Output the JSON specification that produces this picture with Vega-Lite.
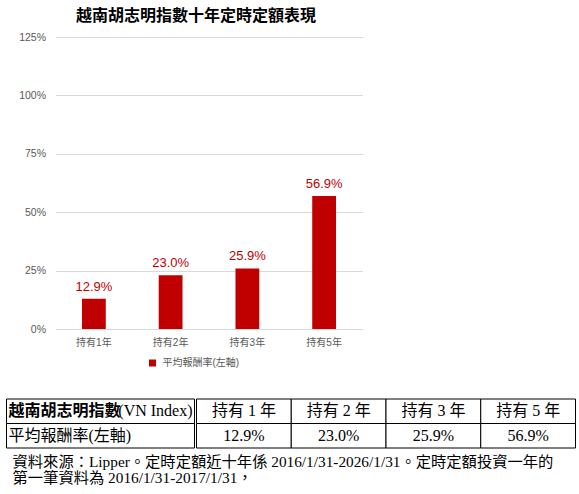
{
  "$schema": "https://vega.github.io/schema/vega-lite/v6.json",
  "background": "white",
  "padding": {"left": 5.5, "top": 8, "right": 5, "bottom": 5},
  "spacing": 51,
  "config": {
    "view": {"stroke": null},
    "font": "Liberation Sans, Noto Sans CJK TC",
    "concat": {"spacing": 0}
  },
  "title": {
    "text": [
      "資料來源：Lipper。定時定額近十年係 2016/1/31-2026/1/31。定時定額投資一年的",
      "第一筆資料為 2016/1/31-2017/1/31，"
    ],
    "orient": "bottom",
    "anchor": "start",
    "frame": "group",
    "font": "Liberation Serif, Noto Sans CJK TC",
    "fontSize": 15.3,
    "fontWeight": "normal",
    "color": "#000000",
    "lineHeight": 16.5,
    "offset": 6,
    "dx": -43
  },
  "datasets": {
    "bars": [
      {"period": "持有1年", "rate": 0.129, "series": "平均報酬率(左軸)"},
      {"period": "持有2年", "rate": 0.230, "series": "平均報酬率(左軸)"},
      {"period": "持有3年", "rate": 0.259, "series": "平均報酬率(左軸)"},
      {"period": "持有5年", "rate": 0.569, "series": "平均報酬率(左軸)"}
    ],
    "tableLeft": [
      {"c": "name", "row": "h", "label": "越南胡志明指數", "note": "(VN Index)"},
      {"c": "name", "row": "b", "label": "平均報酬率(左軸)", "note": ""}
    ],
    "tableRight": [
      {"c": "持有 1 年", "row": "h", "label": "持有 1 年"},
      {"c": "持有 2 年", "row": "h", "label": "持有 2 年"},
      {"c": "持有 3 年", "row": "h", "label": "持有 3 年"},
      {"c": "持有 5 年", "row": "h", "label": "持有 5 年"},
      {"c": "持有 1 年", "row": "b", "label": "12.9%"},
      {"c": "持有 2 年", "row": "b", "label": "23.0%"},
      {"c": "持有 3 年", "row": "b", "label": "25.9%"},
      {"c": "持有 5 年", "row": "b", "label": "56.9%"}
    ]
  },
  "vconcat": [
    {
      "width": 307,
      "height": 292,
      "title": {
        "text": "越南胡志明指數十年定時定額表現",
        "font": "Liberation Serif, Noto Sans CJK TC",
        "fontSize": 16,
        "fontWeight": "bold",
        "color": "#000000",
        "anchor": "middle",
        "frame": "group",
        "dx": -13,
        "offset": 8
      },
      "data": {"name": "bars"},
      "encoding": {
        "x": {
          "field": "period",
          "type": "nominal",
          "sort": null,
          "scale": {"paddingInner": 0.69, "paddingOuter": 0.345},
          "axis": {
            "title": null,
            "labelAngle": 0,
            "ticks": false,
            "domainColor": "#d9d9d9",
            "labelColor": "#595959",
            "labelFontSize": 10,
            "labelPadding": 8
          }
        },
        "y": {
          "field": "rate",
          "type": "quantitative",
          "scale": {"domain": [0, 1.25]},
          "axis": {
            "title": null,
            "format": ".0%",
            "values": [0, 0.25, 0.5, 0.75, 1, 1.25],
            "domain": false,
            "ticks": false,
            "gridColor": "#d9d9d9",
            "labelColor": "#595959",
            "labelFontSize": 10.5,
            "labelPadding": 10
          }
        }
      },
      "layer": [
        {
          "mark": {"type": "bar", "color": "#c00000"},
          "encoding": {
            "color": {
              "field": "series",
              "type": "nominal",
              "scale": {"range": ["#c00000"]},
              "legend": {
                "title": null,
                "orient": "none",
                "legendX": 92,
                "legendY": 321,
                "padding": 0,
                "symbolType": "square",
                "symbolSize": 49,
                "labelFontSize": 10,
                "labelColor": "#595959",
                "labelOffset": 5
              }
            }
          }
        },
        {
          "mark": {"type": "text", "baseline": "bottom", "dy": -5, "color": "#c00000", "fontSize": 13},
          "encoding": {"text": {"field": "rate", "type": "quantitative", "format": ".1%"}}
        }
      ]
    },
    {
      "hconcat": [
        {
          "width": 139,
          "height": 49,
          "data": {"name": "tableLeft"},
          "encoding": {
            "y": {"field": "row", "type": "nominal", "axis": null, "scale": {"domain": ["h", "b"]}}
          },
          "layer": [
            {
              "mark": {"type": "rect", "fill": "white", "stroke": "black", "strokeWidth": 1},
              "encoding": {"x": {"field": "c", "type": "nominal", "axis": null, "scale": {"range": [-49, 139]}}}
            },
            {
              "transform": [{"filter": "datum.row == 'h'"}],
              "mark": {"type": "text", "align": "left", "dx": 2, "font": "Liberation Serif, Noto Sans CJK TC", "fontSize": 16, "fontWeight": "bold", "color": "black"},
              "encoding": {
                "x": {"field": "c", "type": "nominal", "axis": null, "bandPosition": 0},
                "text": {"field": "label"}
              }
            },
            {
              "transform": [{"filter": "datum.row == 'b'"}],
              "mark": {"type": "text", "align": "left", "dx": 2, "font": "Liberation Serif, Noto Sans CJK TC", "fontSize": 16, "color": "black"},
              "encoding": {
                "x": {"field": "c", "type": "nominal", "axis": null, "bandPosition": 0},
                "text": {"field": "label"}
              }
            },
            {
              "mark": {"type": "text", "align": "right", "dx": -2, "font": "Liberation Serif, Noto Sans CJK TC", "fontSize": 16, "color": "black"},
              "encoding": {
                "x": {"field": "c", "type": "nominal", "axis": null, "bandPosition": 1},
                "text": {"field": "note"}
              }
            }
          ]
        },
        {
          "width": 379,
          "height": 49,
          "data": {"name": "tableRight"},
          "encoding": {
            "x": {"field": "c", "type": "nominal", "axis": null, "sort": null},
            "y": {"field": "row", "type": "nominal", "axis": null, "scale": {"domain": ["h", "b"]}}
          },
          "layer": [
            {"mark": {"type": "rect", "fill": "white", "stroke": "black", "strokeWidth": 1}},
            {
              "mark": {"type": "text", "font": "Liberation Serif, Noto Sans CJK TC", "fontSize": 16, "color": "black"},
              "encoding": {"text": {"field": "label"}}
            }
          ]
        }
      ]
    }
  ]
}
